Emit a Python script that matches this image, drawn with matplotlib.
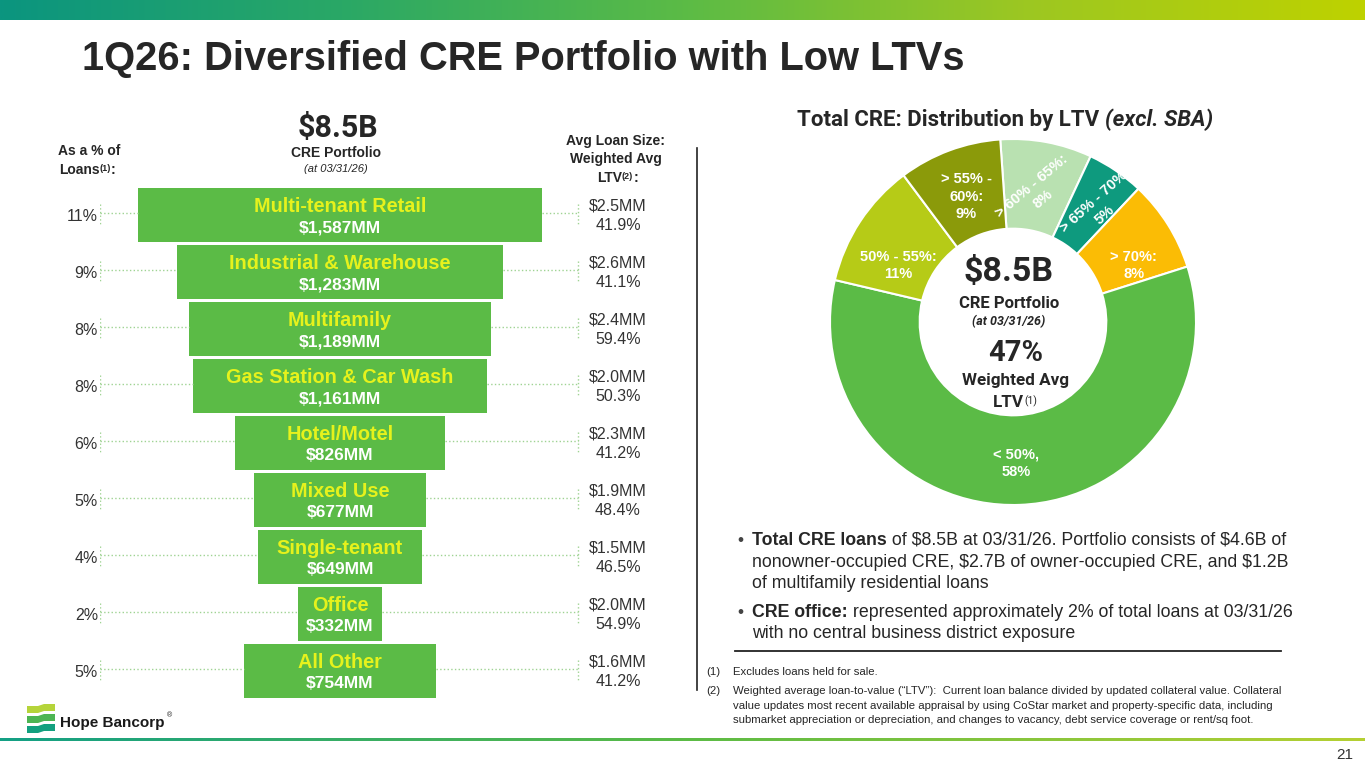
import numpy as np
import matplotlib.pyplot as plt
from matplotlib.colors import LinearSegmentedColormap
from matplotlib.patches import Polygon

plt.rcParams['font.family'] = ['Liberation Sans', 'DejaVu Sans']
plt.rcParams['text.parse_math'] = False
NARROW = ['Liberation Sans Narrow', 'Liberation Sans']
ROBOTO = ['Roboto', 'Liberation Sans']

# funnel data (CRE portfolio by property type)
categories = ['Multi-tenant Retail', 'Industrial & Warehouse', 'Multifamily',
              'Gas Station & Car Wash', 'Hotel/Motel', 'Mixed Use',
              'Single-tenant', 'Office', 'All Other']
balances = [1587, 1283, 1189, 1161, 826, 677, 649, 332, 754]   # $MM
pct_loans = [11, 9, 8, 8, 6, 5, 4, 2, 5]
avg_size = [2.5, 2.6, 2.4, 2.0, 2.3, 1.9, 1.5, 2.0, 1.6]       # $MM
avg_ltv = [41.9, 41.1, 59.4, 50.3, 41.2, 48.4, 46.5, 54.9, 41.2]

# donut data (distribution by LTV), clockwise from the top
ltv_labels = ['> 60% - 65%:\n8%', '> 65% - 70%\n5%', '> 70%:\n8%',
              '< 50%,\n58%', '50% - 55%:\n11%', '> 55% -\n60%:\n9%']
ltv_share = [8, 5, 8, 58, 11, 9]
ltv_colors = ['#B9E1B1', '#0E9A7E', '#FBBC05', '#5BBB46', '#B6CB17', '#8B9A0A']

W, H = 1365, 768
GREEN = '#5BBB46'
YELLOW = '#E6F21C'
LEAD = '#9FD393'
DARK = '#262626'

fig = plt.figure(figsize=(W / 100, H / 100), dpi=100)
ax = fig.add_axes([0, 0, 1, 1])
ax.set_xlim(0, W)
ax.set_ylim(H, 0)
ax.axis('off')

# header gradient band and footer line
top_cmap = LinearSegmentedColormap.from_list('top', ['#0B957F', '#2AA866', '#5BBB46', '#9CC722', '#BED200'])
grad = np.linspace(0, 1, 512).reshape(1, -1)
ax.imshow(grad, cmap=top_cmap, extent=(0, W, 20, 0), aspect='auto')
bot_cmap = LinearSegmentedColormap.from_list('bot', ['#14A085', '#5BBB46', '#B5D033'])
ax.imshow(grad, cmap=bot_cmap, extent=(0, W, 741, 738), aspect='auto')
ax.set_xlim(0, W)
ax.set_ylim(H, 0)

ax.text(82, 59, '1Q26: Diversified CRE Portfolio with Low LTVs', fontsize=28.7,
        fontweight='bold', family=NARROW, color=DARK, va='center', ha='left')


def rich(x, y, parts, **kw):
    # draw text pieces one after another on the same baseline
    base = ax.text(x, y, parts[0][0], va='bottom', ha='left', **kw, **parts[0][1])
    prev = base
    for s, st in parts[1:]:
        st = dict(st)
        sup = st.pop('sup', False)
        if sup:
            prev = ax.annotate(s, xy=(1, 0.95), xycoords=(prev, base), va='top', ha='left', **kw, **st)
        else:
            prev = ax.annotate(s, xy=(1, 0), xycoords=(prev, base), va='bottom', ha='left', **kw, **st)
    return base


# left panel headers
HB = dict(fontsize=10, fontweight='bold', family=NARROW, color=DARK)
ax.text(338, 128, '$8.5B', fontsize=22, fontweight='bold', family=ROBOTO, color=DARK, ha='center', va='center')
ax.text(336, 153, 'CRE Portfolio', fontsize=10, fontweight='bold', family=NARROW, color=DARK, ha='center', va='center')
ax.text(336, 169, '(at 03/31/26)', fontsize=8, fontstyle='italic', family=NARROW, color=DARK, ha='center', va='center')

ax.text(89, 151, 'As a % of', ha='center', va='center', **HB)
rich(59, 177, [('Loans', HB),
               ('(1)', dict(HB, fontsize=6.5, sup=True)),
               (':', HB)])

ax.text(616, 141, 'Avg Loan Size:', ha='center', va='center', **HB)
ax.text(616, 159, 'Weighted Avg', ha='center', va='center', **HB)
rich(597, 185, [('LTV', HB),
                ('(2)', dict(HB, fontsize=6.5, sup=True)),
                (':', HB)])

ax.plot([697, 697], [148, 690], color='#222222', lw=1.2)

# funnel bars
PX_PER_MM = 0.254
fax = fig.add_axes([100 / W, 1 - 699.5 / H, 480 / W, 513 / H])
half = 240 / PX_PER_MM
fax.set_xlim(-half, half)
n = len(categories)
fax.set_ylim(n - 0.5, -0.5)
fax.axis('off')
rows = np.arange(n)
bal = np.array(balances)
fax.barh(rows, bal, left=-bal / 2, height=0.96, color=GREEN, edgecolor='none')

x_right = (578 - 340) / PX_PER_MM
x_vals = (618 - 340) / PX_PER_MM
for i in rows:
    b = bal[i] / 2
    fax.plot([-half, -b], [i - 0.03, i - 0.03], ls=':', color=LEAD, lw=1)
    fax.plot([-half, -half], [i - 0.2, i + 0.2], ls=':', color=LEAD, lw=1)
    fax.plot([b, x_right], [i - 0.03, i - 0.03], ls=':', color=LEAD, lw=1)
    fax.plot([x_right, x_right], [i - 0.2, i + 0.2], ls=':', color=LEAD, lw=1)
    fax.text(0, i - 0.15, categories[i], fontsize=14.3, fontweight='bold', family=NARROW,
             color=YELLOW, ha='center', va='center')
    fax.text(0, i + 0.22, f'${balances[i]:,}MM', fontsize=12.5, fontweight='bold', family=NARROW,
             color='white', ha='center', va='center')
    fax.text(-half - 2 / PX_PER_MM, i + 0.03, f'{pct_loans[i]}%', fontsize=11.5, family=NARROW,
             color='#333333', ha='right', va='center')
    fax.text(x_vals, i - 0.15, f'${avg_size[i]:.1f}MM', fontsize=11.5, family=NARROW,
             color='#333333', ha='center', va='center')
    fax.text(x_vals, i + 0.19, f'{avg_ltv[i]:.1f}%', fontsize=11.5, family=NARROW,
             color='#333333', ha='center', va='center')

# donut
R = 183
dax = fig.add_axes([(1013 - R) / W, 1 - (322 + R) / H, 2 * R / W, 2 * R / H])
wedges, _ = dax.pie(ltv_share, colors=ltv_colors, startangle=94, counterclock=False, radius=1,
                    wedgeprops=dict(width=0.49, edgecolor='white', linewidth=1.5))
dax.set_xlim(-1, 1)
dax.set_ylim(-1, 1)
lab_r = [0.72, 0.78, 0.73, 0.77, 0.70, 0.73]
lab_da = [0, -3, -7, -1, 7, 0]
lab_rot = [40, 42, 0, 0, 0, 0]
for w, lab, r, da, rot in zip(wedges, ltv_labels, lab_r, lab_da, lab_rot):
    mid = np.deg2rad((w.theta1 + w.theta2) / 2 + da)
    dax.text(r * np.cos(mid), r * np.sin(mid), lab, ha='center', va='center', rotation=rot,
             rotation_mode='anchor', fontsize=10.5, fontweight='bold', color='white', linespacing=1.3)

# donut center
ax.text(1009, 272, '$8.5B', fontsize=24.5, fontweight='bold', family=ROBOTO, color=DARK, ha='center', va='center')
ax.text(1009, 303, 'CRE Portfolio', fontsize=12, fontweight='bold', family=ROBOTO, color=DARK, ha='center', va='center')
ax.text(1009, 322, '(at 03/31/26)', fontsize=9, fontstyle='italic', fontweight='bold', family=ROBOTO,
        color=DARK, ha='center', va='center')
ax.text(1016, 353, '47%', fontsize=21, fontweight='bold', family=ROBOTO, color=DARK, ha='center', va='center')
ax.text(1016, 380, 'Weighted Avg', fontsize=12.3, fontweight='bold', family=ROBOTO, color=DARK, ha='center', va='center')
rich(993, 410, [('LTV', dict(fontsize=12.3, fontweight='bold', family=ROBOTO, color=DARK)),
                ('(1)', dict(fontsize=7.5, family=ROBOTO, color=DARK, sup=True))])

rich(797, 131, [('Total CRE: Distribution by LTV ', dict(fontsize=16, fontweight='bold', family=ROBOTO, color=DARK)),
                ('(excl. SBA)', dict(fontsize=16, fontweight='bold', fontstyle='italic', family=ROBOTO, color=DARK))])

# bullets
BUL = dict(fontsize=12.75, color=DARK)
ax.text(737, 540, '•', fontsize=12.5, color='#444444', ha='left', va='center')
rich(752, 549, [('Total CRE loans', dict(fontweight='bold', **BUL)),
                (' of $8.5B at 03/31/26. Portfolio consists of $4.6B of', BUL)])
ax.text(752, 571, 'nonowner-occupied CRE, $2.7B of owner-occupied CRE, and $1.2B', va='bottom', ha='left', **BUL)
ax.text(752, 592, 'of multifamily residential loans', va='bottom', ha='left', **BUL)
ax.text(737, 612, '•', fontsize=12.5, color='#444444', ha='left', va='center')
rich(752, 621, [('CRE office:', dict(fontweight='bold', **BUL)),
                (' represented approximately 2% of total loans at 03/31/26', BUL)])
ax.text(752, 642, 'with no central business district exposure', va='bottom', ha='left', **BUL)

# footnotes
ax.plot([735, 1281], [651, 651], color='#222222', lw=1.3)
FN = dict(fontsize=8.2, family=NARROW, color=DARK, va='center', ha='left')
ax.text(706, 672, '(1)', **FN)
ax.text(733, 672, 'Excludes loans held for sale.', **FN)
ax.text(706, 691, '(2)', **FN)
ax.text(733, 691, 'Weighted average loan-to-value (\u201cLTV\u201d):  Current loan balance divided by updated collateral value. Collateral', **FN)
ax.text(733, 706, 'value updates most recent available appraisal by using CoStar market and property-specific data, including', **FN)
ax.text(733, 720, 'submarket appreciation or depreciation, and changes to vacancy, debt service coverage or rent/sq foot.', **FN)

ax.text(1353, 755, '21', fontsize=11, color='#333333', ha='right', va='center')

# logo
for k, c in enumerate(['#B5D43A', '#4DB553', '#13A07F']):
    y0 = 704 + k * 10
    ax.add_patch(Polygon([[27, y0 + 2], [38, y0 + 2], [44, y0], [55, y0], [55, y0 + 7],
                          [44, y0 + 7], [38, y0 + 9], [27, y0 + 9]], closed=True, color=c, lw=0))
ax.text(60, 723, 'Hope Bancorp', fontsize=11, fontweight='bold', color='#1a1a1a', ha='left', va='center')
ax.text(167, 716, '®', fontsize=5, color='#1a1a1a', ha='left', va='center')

fig.savefig('out.png', dpi=100)
